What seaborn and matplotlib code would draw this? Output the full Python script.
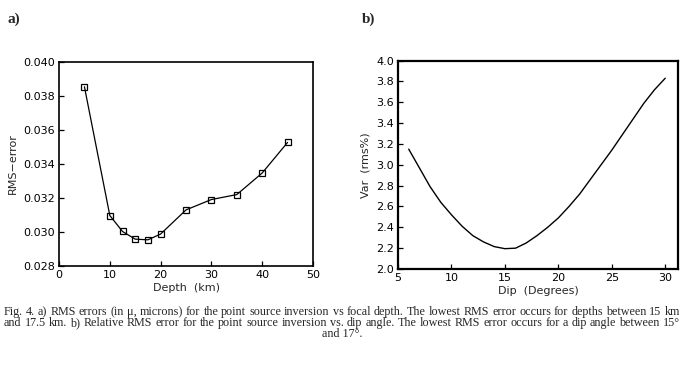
import matplotlib
matplotlib.use("Agg")
import matplotlib.pyplot as plt
import seaborn as sns
import pandas as pd
from matplotlib.ticker import FormatStrFormatter

# Panel a data
depth_km = [5, 10, 12.5, 15, 17.5, 20, 25, 30, 35, 40, 45]
rms_error = [0.03854, 0.03097, 0.03003, 0.02958, 0.02954, 0.02988,
             0.0313, 0.03191, 0.0322, 0.03347, 0.03527]

# Panel b data
dip_deg = [6, 7, 8, 9, 10, 11, 12, 13, 14, 15, 16, 17, 18, 19, 20,
           21, 22, 23, 24, 25, 26, 27, 28, 29, 30]
var_rms = [3.15, 2.97, 2.79, 2.64, 2.52, 2.41, 2.32, 2.26, 2.215, 2.195,
           2.20, 2.25, 2.32, 2.40, 2.49, 2.60, 2.72, 2.86, 3.00, 3.14,
           3.29, 3.44, 3.59, 3.72, 3.83]

a_xticks = [0, 10, 20, 30, 40, 50]
a_yticks = [0.028, 0.030, 0.032, 0.034, 0.036, 0.038, 0.040]
b_xticks = [5, 10, 15, 20, 25, 30]
b_yticks = [2.0, 2.2, 2.4, 2.6, 2.8, 3.0, 3.2, 3.4, 3.6, 3.8, 4.0]

caption_lines = [
    "Fig. 4. a) RMS errors (in \u03bc, microns) for the point source inversion vs focal depth. The lowest RMS error occurs for depths between 15 km",
    "and 17.5 km. b) Relative RMS error for the point source inversion vs. dip angle. The lowest RMS error occurs for a dip angle between 15\u00b0",
    "and 17\u00b0.",
]

sns.set_theme(style="white")
plt.rcParams['font.family'] = ['DejaVu Sans']

df_a = pd.DataFrame({"Depth": depth_km, "RMS": rms_error})
df_b = pd.DataFrame({"Dip": dip_deg, "Var": var_rms})

W, H = 684, 371
fig = plt.figure(figsize=(6.84, 3.71), dpi=100)
fig.patch.set_facecolor("white")

ax_a = fig.add_axes([0.0863, 0.283, 0.3713, 0.550])
ax_b = fig.add_axes([0.5819, 0.2749, 0.4094, 0.562])

sns.lineplot(data=df_a, x="Depth", y="RMS", ax=ax_a, color="black",
             linewidth=0.9, marker="s", markersize=4.5,
             markerfacecolor="none", markeredgecolor="black",
             markeredgewidth=0.9)
sns.lineplot(data=df_b, x="Dip", y="Var", ax=ax_b, color="black",
             linewidth=1.0)

tick_fs = 8
for ax, lw in ((ax_a, 1.2), (ax_b, 1.6)):
    for s in ax.spines.values():
        s.set_visible(True)
        s.set_color("black")
        s.set_linewidth(lw)
    ax.tick_params(direction="in", length=3.5, width=0.9, colors="black",
                   labelsize=tick_fs, bottom=True, left=True, top=False,
                   right=False, pad=3)
    ax.grid(False)
    ax.set_facecolor("white")

ax_a.set_xlim(0, 50)
ax_a.set_ylim(0.028, 0.040)
ax_a.set_xticks(a_xticks)
ax_a.set_yticks(a_yticks)
ax_a.yaxis.set_major_formatter(FormatStrFormatter("%.3f"))
ax_a.set_xlabel("Depth  (km)", fontsize=tick_fs, labelpad=2)
ax_a.set_ylabel("RMS\u2212error", fontsize=tick_fs, labelpad=4)

ax_b.set_xlim(5, 31.2)
ax_b.set_ylim(2.0, 4.0)
ax_b.set_xticks(b_xticks)
ax_b.set_yticks(b_yticks)
ax_b.yaxis.set_major_formatter(FormatStrFormatter("%.1f"))
ax_b.set_xlabel("Dip  (Degrees)", fontsize=tick_fs, labelpad=2)
ax_b.set_ylabel("Var  (rms%)", fontsize=tick_fs, labelpad=4)

serif = ["Liberation Serif", "DejaVu Serif"]
fig.text(7 / W, 1 - 19 / H, "a)", fontsize=11, fontweight="bold",
         family=serif, va="center", ha="left")
fig.text(362 / W, 1 - 19 / H, "b)", fontsize=11, fontweight="bold",
         family=serif, va="center", ha="left")

# Caption: first two lines justified between x=4 and x=680 px
cap_fs = 8.7
renderer = fig.canvas.get_renderer()
x0, x1 = 4, 680
for line, ypx in ((caption_lines[0], 312), (caption_lines[1], 323)):
    words = line.split(" ")
    texts = [fig.text(0, 1 - ypx / H, w, fontsize=cap_fs, family=serif,
                      va="center", ha="left") for w in words]
    widths = [t.get_window_extent(renderer).width for t in texts]
    gap = (x1 - x0 - sum(widths)) / (len(words) - 1)
    x = x0
    for t, wd in zip(texts, widths):
        t.set_x(x / W)
        x += wd + gap
fig.text(342 / W, 1 - 334 / H, caption_lines[2], fontsize=cap_fs,
         family=serif, va="center", ha="center")

fig.savefig("out.png", dpi=100, facecolor="white")
